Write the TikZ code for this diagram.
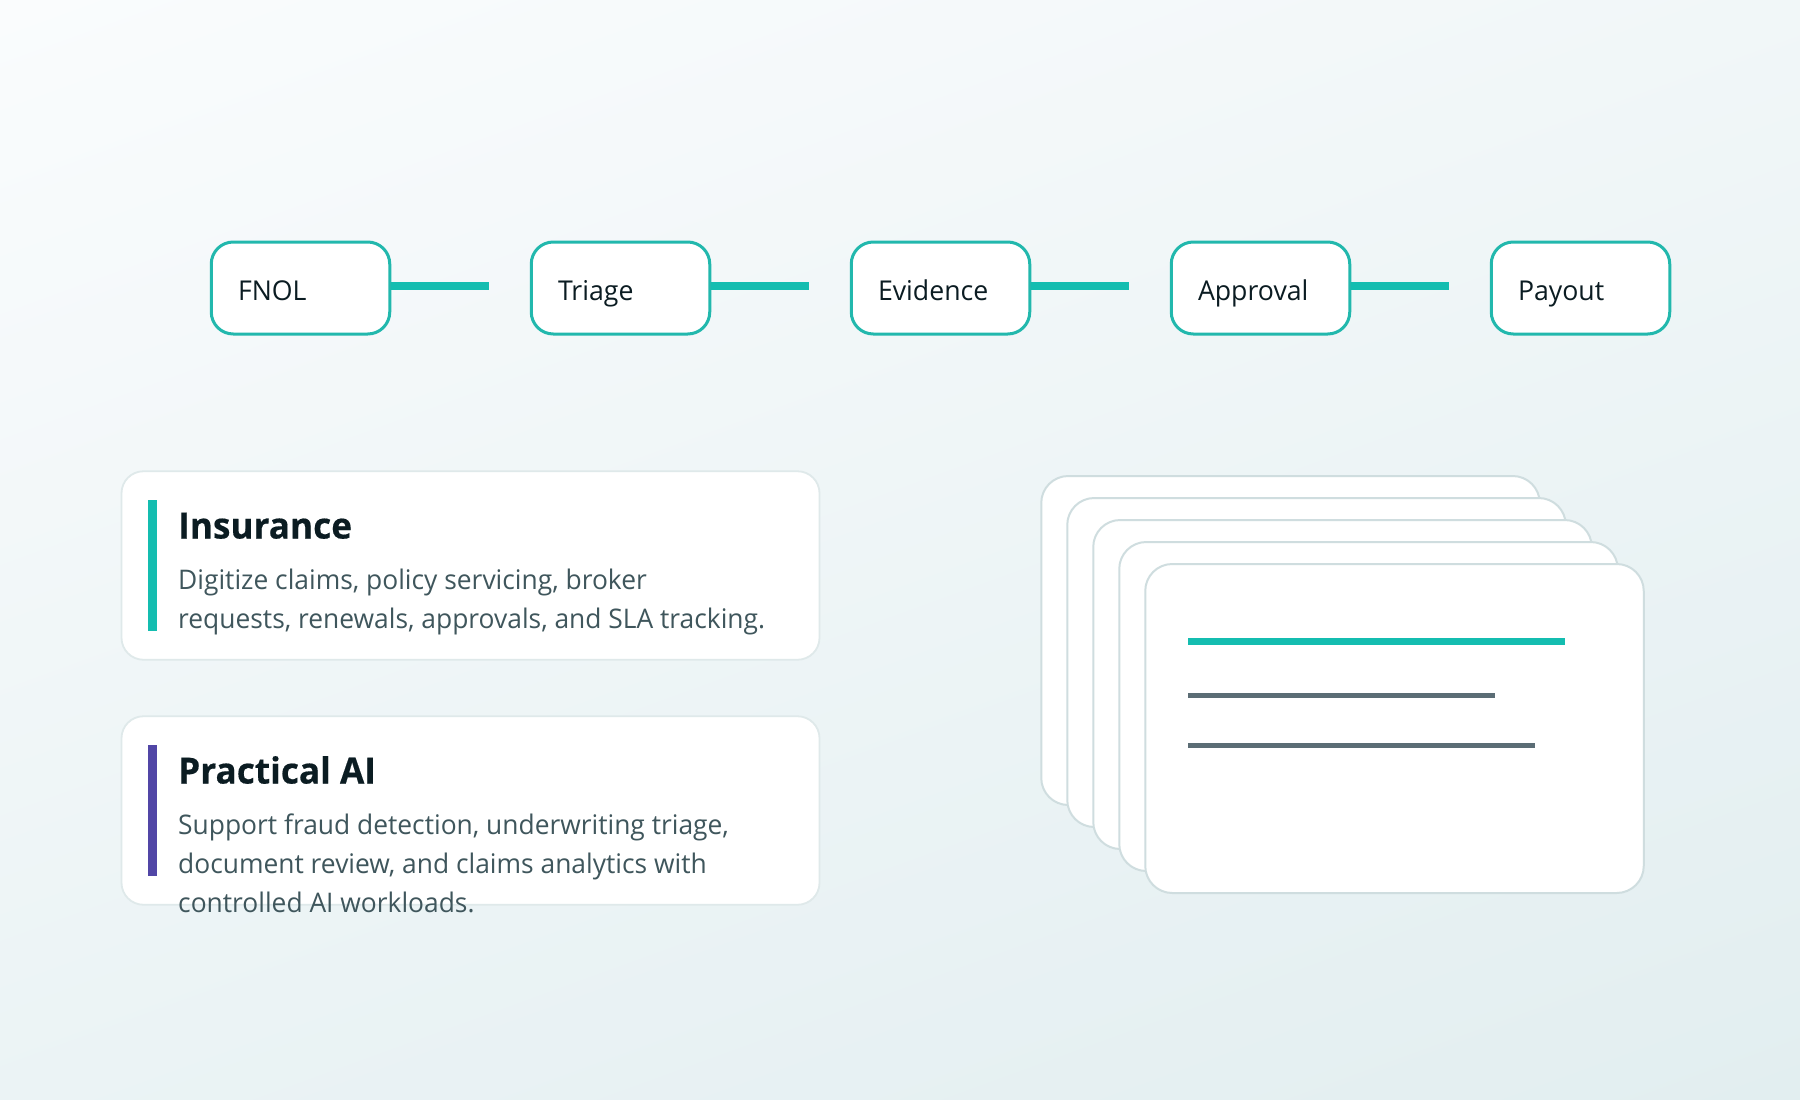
\documentclass[tikz,border=0pt]{standalone}
\usepackage{fontspec}
\setmainfont{Open Sans}[FakeStretch=0.977, BoldFeatures={FakeBold=0.4}]
\definecolor{tealline}{HTML}{14BDB0}
\definecolor{tealedge}{HTML}{22B8AD}
\definecolor{violetbar}{HTML}{5146A6}
\definecolor{inkdark}{HTML}{0B1C22}
\definecolor{inkbody}{HTML}{3F565C}
\definecolor{cardedge}{HTML}{DFE9EA}
\definecolor{pageedge}{HTML}{CFDDDF}
\definecolor{rulegrey}{HTML}{5B6D75}
\definecolor{bgstart}{HTML}{FAFCFD}
\definecolor{bgmiddle}{HTML}{ECF3F6}
\definecolor{bgend}{HTML}{E2EEF0}
\tikzset{
  stepbox/.style={draw=tealedge, line width=3pt, fill=white, rounded corners=22pt,
    minimum width=178.5pt, minimum height=92pt, inner xsep=26.75pt, text width=125pt,
    text height=25.5pt, text depth=1pt, align=left, text=inkdark,
    font=\fontsize{27.3}{32}\selectfont},
  link/.style={draw=tealline, line width=8pt},
  card/.style={draw=cardedge, line width=1.8pt, fill=white, rounded corners=22pt,
    minimum width=698pt, minimum height=188.5pt},
  cardbar/.style={minimum width=9pt, minimum height=131pt, inner sep=0pt},
  cardtitle/.style={anchor=base west, inner sep=0pt, text=inkdark,
    font=\fontsize{36}{40}\bfseries\selectfont},
  cardtext/.style={anchor=north west, inner sep=0pt, align=left, text=inkbody,
    font=\fontsize{27}{39}\selectfont},
  page/.style={draw=pageedge, line width=2pt, fill=white, rounded corners=27pt,
    minimum width=498.5pt, minimum height=329pt},
  pagerule/.style={line width=5pt, draw=rulegrey},
}
\begin{document}
\begin{tikzpicture}[x=1pt,y=-1pt]
    \useasboundingbox (0,0) rectangle (1800,1100);
    % background
    \shade[top color=bgstart, middle color=bgmiddle, bottom color=bgend,
      transform canvas={rotate around={20:(900,550)}}] (-400,-274.5) rectangle (2200,1374.5);
    % claim steps
    \node (fnol)     at ( 300.5, 288) [stepbox] {FNOL};
    \node (triage)   at ( 620.5, 288) [stepbox] {Triage};
    \node (evidence) at ( 940.5, 288) [stepbox] {Evidence};
    \node (approval) at (1260.5, 288) [stepbox] {Approval};
    \node (payout)   at (1580.5, 288) [stepbox] {Payout};
    % free ends of the links
    \coordinate (fnolend)     at ( 489, 286);
    \coordinate (triageend)   at ( 809, 286);
    \coordinate (evidenceend) at (1129, 286);
    \coordinate (approvalend) at (1449, 286);
    % links
    \draw[link] (fnol.east |- fnolend) -- (fnolend);
    \draw[link] (triage.east |- triageend) -- (triageend);
    \draw[link] (evidence.east |- evidenceend) -- (evidenceend);
    \draw[link] (approval.east |- approvalend) -- (approvalend);
    % insurance card
    \node (insurance) at ( 470.5, 565.5) [card] {};
    \node (insurancebar) at ( 152.5, 565.5) [cardbar, fill=tealline] {};
    \node (insurancetitle) at ( 178, 538.5) [cardtitle] {Insurance};
    \node (insurancetext) at ( 178, 569) [cardtext] {Digitize claims, policy servicing, broker\\requests, renewals, approvals, and SLA tracking.};
    % practical AI card
    \node (practical) at ( 470.5, 810.5) [card] {};
    \node (practicalbar) at ( 152.5, 810.5) [cardbar, fill=violetbar] {};
    \node (practicaltitle) at ( 178, 783.5) [cardtitle] {Practical AI};
    \node (practicaltext) at ( 178, 814) [cardtext] {Support fraud detection, underwriting triage,\\document review, and claims analytics with\\controlled AI workloads.};
    % stack of pages
    \node (pagea) at (1290.5, 640.5) [page] {};
    \node (pageb) at (1316.5, 662.5) [page] {};
    \node (pagec) at (1342.5, 684.5) [page] {};
    \node (paged) at (1368.5, 706.5) [page] {};
    \node (pagee) at (1394.5, 728.5) [page] {};
    % rules on the top page
    \coordinate (rulea) at (1188, 641.5);
    \coordinate (ruleb) at (1188, 695);
    \coordinate (rulec) at (1188, 745.5);
    \draw[link, line width=7pt] (rulea) -- ++(377, 0);
    \draw[pagerule] (ruleb) -- ++(307, 0);
    \draw[pagerule] (rulec) -- ++(347, 0);
\end{tikzpicture}
\end{document}
